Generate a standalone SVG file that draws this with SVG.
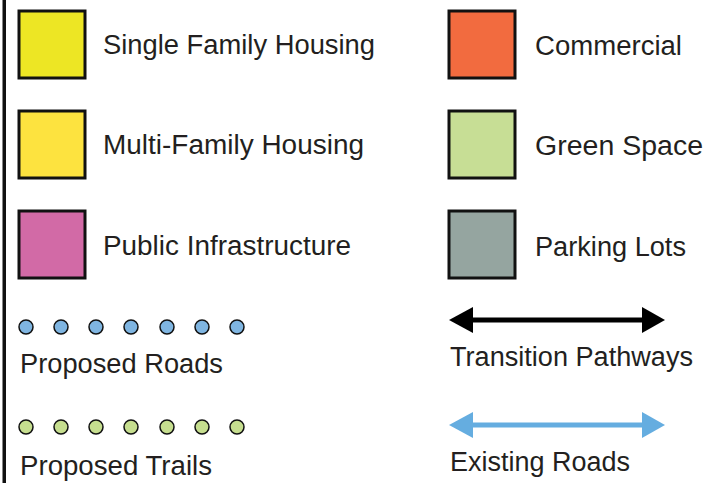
<svg xmlns="http://www.w3.org/2000/svg" width="713" height="483" viewBox="0 0 713 483">
<style>
.sw{stroke:#111;stroke-width:3}
.t{font-family:"Liberation Sans",Arial,sans-serif;font-size:27px;fill:#231f20}
.db{fill:#7fb5e1;stroke:#111;stroke-width:1.5}
.dg{fill:#c6de8f;stroke:#111;stroke-width:1.5}
</style>
<rect width="713" height="483" fill="#ffffff"/>
<rect x="2.5" y="0" width="3.5" height="483" fill="#111"/>
<g id="single-family"><rect class="sw" x="19" y="11" width="66" height="67" fill="#ede624"/><text class="t" x="103" y="54" textLength="272" lengthAdjust="spacingAndGlyphs">Single Family Housing</text></g>
<g id="multi-family"><rect class="sw" x="19" y="111" width="66" height="67" fill="#fde33f"/><text class="t" x="103" y="154" textLength="261" lengthAdjust="spacingAndGlyphs">Multi-Family Housing</text></g>
<g id="public-infra"><rect class="sw" x="19" y="211" width="66" height="67" fill="#d26aa6"/><text class="t" x="103" y="255" textLength="248" lengthAdjust="spacingAndGlyphs">Public Infrastructure</text></g>
<g id="commercial"><rect class="sw" x="449" y="11" width="66" height="67" fill="#f26b3f"/><text class="t" x="535" y="55" textLength="147" lengthAdjust="spacingAndGlyphs">Commercial</text></g>
<g id="green-space"><rect class="sw" x="449" y="111" width="66" height="67" fill="#c7de95"/><text class="t" x="535" y="155" textLength="168" lengthAdjust="spacingAndGlyphs">Green Space</text></g>
<g id="parking"><rect class="sw" x="449" y="211" width="66" height="67" fill="#95a5a0"/><text class="t" x="535" y="256" textLength="151" lengthAdjust="spacingAndGlyphs">Parking Lots</text></g>
<g id="proposed-roads">
<circle class="db" cx="26" cy="327" r="7"/><circle class="db" cx="61" cy="327" r="7"/><circle class="db" cx="96" cy="327" r="7"/><circle class="db" cx="131" cy="327" r="7"/><circle class="db" cx="167" cy="327" r="7"/><circle class="db" cx="202" cy="327" r="7"/><circle class="db" cx="237" cy="327" r="7"/>
<text class="t" x="20" y="373" textLength="203" lengthAdjust="spacingAndGlyphs">Proposed Roads</text></g>
<g id="proposed-trails">
<circle class="dg" cx="26" cy="427" r="7"/><circle class="dg" cx="61" cy="427" r="7"/><circle class="dg" cx="96" cy="427" r="7"/><circle class="dg" cx="131" cy="427" r="7"/><circle class="dg" cx="167" cy="427" r="7"/><circle class="dg" cx="202" cy="427" r="7"/><circle class="dg" cx="237" cy="427" r="7"/>
<text class="t" x="20" y="475" textLength="192" lengthAdjust="spacingAndGlyphs">Proposed Trails</text></g>
<g id="connectors">
<g id="transition-arrow"><line x1="470" y1="320" x2="645" y2="320" stroke="#000" stroke-width="5"/><polygon points="449,320 473,307 473,333" fill="#000"/><polygon points="665,320 642,307 642,333" fill="#000"/></g>
<g id="existing-arrow"><line x1="470" y1="425" x2="645" y2="425" stroke="#65ade0" stroke-width="5"/><polygon points="449,425 473,412 473,438" fill="#65ade0"/><polygon points="665,425 642,412 642,438" fill="#65ade0"/></g>
</g>
<g id="transition-label"><text class="t" x="450" y="366" textLength="243" lengthAdjust="spacingAndGlyphs">Transition Pathways</text></g>
<g id="existing-label"><text class="t" x="450" y="471" textLength="180" lengthAdjust="spacingAndGlyphs">Existing Roads</text></g>
</svg>
